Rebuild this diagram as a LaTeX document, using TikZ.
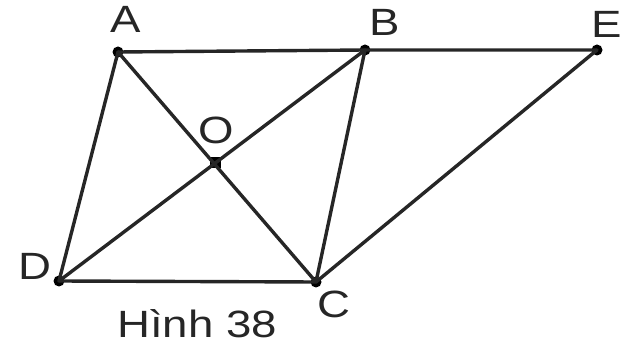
\documentclass[tikz,border=0pt]{standalone}
\usepackage{fontspec}
\setmainfont{Liberation Sans}
\usetikzlibrary{calc}
\tikzset{
  seg/.style   ={draw,line width=1.7pt,line cap=round,line join=round,black!85},
  pt/.style    ={circle,fill=black,inner sep=0pt,minimum size=5.5pt},
  sqpt/.style  ={rectangle,fill=black,inner sep=0pt,minimum size=5.5pt},
  lbl/.style   ={inner sep=0pt,xscale=1.2,font=\fontsize{19}{22}\selectfont,black!85},
}
\begin{document}
\begin{tikzpicture}[x=0.5pt,y=-0.5pt]
\useasboundingbox (0,0) rectangle (633,353);

% points
\node[pt] (A) at (118,52) {};
\node[pt] (B) at (365,50) {};
\node[pt] (E) at (597,50) {};
\node[pt] (D) at (59,281) {};
\node[pt] (C) at (316,282) {};
\node[sqpt] (O) at (215,163) {};

% segments
\draw[seg] (A.center) -- (B.center) -- (E.center);
\draw[seg] (A.center) -- (D.center) -- (C.center) -- (B.center);
\draw[seg] (A.center) -- (C.center);
\draw[seg] (D.center) -- (B.center);
\draw[seg] (C.center) -- (E.center);

% labels
\node[lbl] (lA) at (126,19) {A};
\node[lbl] (lB) at (385,22) {B};
\node[lbl] (lE) at (607,24) {E};
\node[lbl] (lO) at (216,130) {O};
\node[lbl] (lD) at (35,266) {D};
\node[lbl] (lC) at (334,304) {C};
\node[lbl] (cap) at (197,324) {Hình 38};

\end{tikzpicture}
\end{document}
